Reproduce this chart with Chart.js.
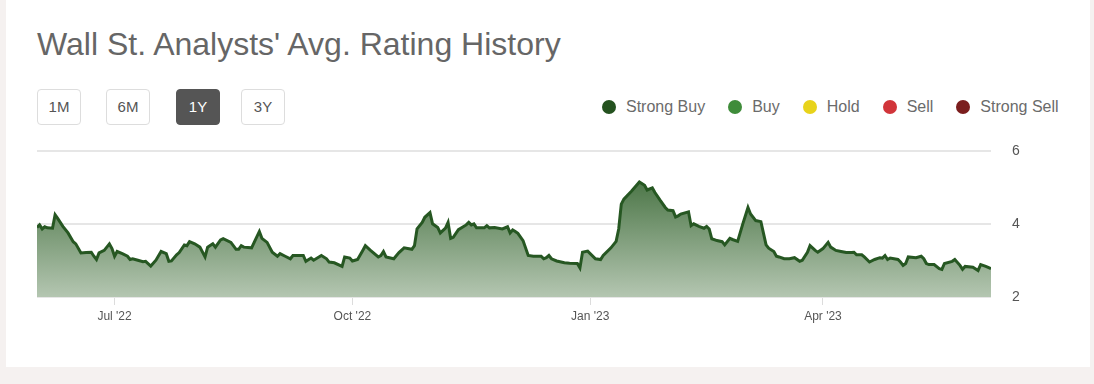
<!DOCTYPE html>
<html lang="en">
<head>
  <meta charset="UTF-8">
  <title>Wall St. Analysts' Avg. Rating History</title>
  <script src="https://cdn.jsdelivr.net/npm/chart.js"></script>
  <style>
    body { margin: 0; background: #f5f1f0; font-family: "Liberation Sans", Arial, sans-serif; }
    .card { position: absolute; left: 6px; top: 0; width: 1084px; height: 367px; background: #fff; }
    h1 { position: absolute; left: 37px; top: 26px; margin: 0; font-size: 32px; font-weight: normal; color: #666; }
    .btn { position: absolute; top: 89px; width: 44px; height: 36px; box-sizing: border-box; border: 1px solid #ddd; border-radius: 4px;
           background: #fff; color: #555; font-size: 15px; line-height: 34px; text-align: center; }
    .btn.on { background: #555; border-color: #555; color: #fff; }
    .legend { position: absolute; top: 98px; left: 602px; display: flex; font-size: 16px; color: #6b6b6b; }
    .legend span { display: flex; align-items: center; margin-right: 23px; }
    .legend i { width: 14px; height: 14px; border-radius: 50%; margin-right: 10px; display: inline-block; }
    #box { position: absolute; left: 37px; top: 122px; width: 994px; height: 205px; }
  </style>
</head>
<body>
  <div class="card"></div>
  <h1>Wall St. Analysts' Avg. Rating History</h1>
  <div class="btn" style="left:37px">1M</div>
  <div class="btn" style="left:106px">6M</div>
  <div class="btn on" style="left:176px">1Y</div>
  <div class="btn" style="left:241px">3Y</div>
  <div class="legend" id="legend"></div>
  <div id="box"><canvas id="chartRating"></canvas></div>

  <script>
    // days since Jun 1 '22
    const days = [0,1,2,3,4,6,7,8,10,12,14,15,17,19,21,22,23,24,26,28,29,30,31,33,35,36,37,39,41,42,44,46,48,50,51,52,54,55,57,58,59,61,
      63,65,66,68,69,71,72,75,77,78,79,80,83,84,86,87,89,91,93,94,96,98,99,103,104,106,107,110,112,113,115,118,119,121,122,123,
      124,126,127,129,132,133,134,135,138,140,142,145,146,147,149,150,152,153,155,156,158,159,160,161,163,166,167,168,169,170,173,174,175,177,180,182,183,184,185,
      186,188,190,192,195,196,197,198,199,201,204,206,209,210,211,213,216,218,219,222,224,225,226,227,230,233,235,236,238,239,241,243,244,246,247,
      248,249,252,253,254,256,258,259,260,261,263,265,266,268,269,271,273,275,276,278,280,282,283,285,286,287,289,291,293,295,296,298,299,301,302,304,306,307,309,
      311,313,315,316,317,319,320,322,324,326,327,328,329,330,333,334,335,336,337,340,342,343,344,345,347,349,350,351,354,355,357,358,359,362,364,365,367,369];
    const ratings = [3.91,3.98,3.87,3.93,3.90,3.89,4.26,4.16,3.94,3.76,3.52,3.46,3.21,3.22,3.23,3.12,3.03,3.21,3.28,3.46,3.33,3.12,3.25,3.19,3.12,3.03,3.05,3.01,2.97,2.98,2.85,3.01,3.25,3.19,2.98,2.99,3.16,3.22,3.43,3.41,3.52,3.46,
      3.37,3.10,3.37,3.46,3.37,3.57,3.60,3.50,3.31,3.31,3.41,3.37,3.35,3.50,3.80,3.61,3.50,3.23,3.12,3.19,3.12,3.05,3.14,3.14,2.98,3.07,3.01,3.14,3.05,2.96,2.94,2.84,3.10,3.07,2.99,3.01,
      3.03,3.28,3.41,3.28,3.10,3.14,3.25,3.10,3.05,3.22,3.35,3.31,3.41,3.87,4.05,4.19,4.32,4.01,3.91,3.76,3.89,4.05,3.61,3.64,3.85,3.98,4.05,3.98,4.01,3.90,3.90,3.96,3.90,3.91,3.87,3.93,3.76,3.84,3.80,
      3.75,3.55,3.14,3.12,3.12,3.05,3.08,3.14,3.05,2.99,2.94,2.93,2.92,2.80,3.23,3.26,3.05,3.03,3.14,3.35,3.53,3.87,4.55,4.69,4.91,5.16,5.07,4.94,5.00,4.87,4.66,4.46,4.39,4.37,4.20,
      4.23,4.28,4.34,3.96,4.01,3.94,3.89,3.94,3.87,3.60,3.55,3.52,3.43,3.61,3.58,3.53,4.01,4.46,4.28,4.10,4.07,3.43,3.34,3.25,3.12,3.10,3.05,3.05,3.08,2.98,3.01,3.23,3.41,3.28,3.23,3.33,3.50,3.37,3.28,
      3.25,3.22,3.22,3.23,3.16,3.16,3.10,2.96,3.03,3.08,3.07,3.14,3.03,3.07,3.03,2.96,2.87,2.92,3.10,3.08,3.12,3.05,2.92,2.89,2.89,2.78,2.76,2.92,2.98,3.03,2.87,2.76,2.84,2.82,2.73,2.89,2.84,2.78];

    const tickDays = [30, 122, 214, 304];
    const tickLabels = ["Jul '22", "Oct '22", "Jan '23", "Apr '23"];
    const yTicks = [2, 4, 6];

    const legendNames = ["Strong Buy", "Buy", "Hold", "Sell", "Strong Sell"];
    const legendColors = ["#24521f", "#3f8c3a", "#e8d31b", "#d1353a", "#7b1e1e"];

    // legend
    const legend = document.getElementById("legend");
    legendNames.forEach((name, i) => {
      const s = document.createElement("span");
      s.innerHTML = `<i style="background:${legendColors[i]}"></i>${name}`;
      legend.appendChild(s);
    });

    const points = days.map((d, i) => ({ x: d, y: ratings[i] }));

    function fillGradient(context) {
      const { ctx, chartArea } = context.chart;
      if (!chartArea) return "rgba(80,120,75,0.6)";
      const g = ctx.createLinearGradient(0, chartArea.top, 0, chartArea.bottom);
      g.addColorStop(0, "rgb(50,98,45)");
      g.addColorStop(1, "rgb(180,198,177)");
      return g;
    }

    new Chart(document.getElementById("chartRating"), {
      type: "line",
      data: {
        datasets: [{
          data: points,
          borderColor: "#265722",
          borderWidth: 3,
          backgroundColor: fillGradient,
          fill: "start",
          pointRadius: 0,
          tension: 0
        }]
      },
      options: {
        responsive: true,
        maintainAspectRatio: false,
        animation: false,
        layout: { padding: { top: 10 } },
        plugins: { legend: { display: false }, tooltip: { enabled: false } },
        scales: {
          x: {
            type: "linear",
            min: 0,
            max: 369,
            afterBuildTicks: s => { s.ticks = tickDays.map(v => ({ value: v })); },
            afterFit: s => { s.height = 30; },
            ticks: {
              autoSkip: false,
              maxRotation: 0,
              padding: 4,
              color: "#555",
              font: { size: 12, family: "Liberation Sans" },
              callback: v => tickLabels[tickDays.indexOf(v)]
            },
            grid: { drawOnChartArea: false, tickLength: 8, color: "#dcdcdc" },
            border: { display: false }
          },
          y: {
            position: "right",
            min: 2,
            max: 6,
            afterBuildTicks: s => { s.ticks = yTicks.map(v => ({ value: v })); },
            afterFit: s => { s.width = 40; },
            ticks: { padding: 21, color: "#555", font: { size: 14, family: "Liberation Sans" } },
            grid: { color: "#e6e6e6", lineWidth: 2, drawTicks: false },
            border: { display: false }
          }
        }
      }
    });
  </script>
</body>
</html>
